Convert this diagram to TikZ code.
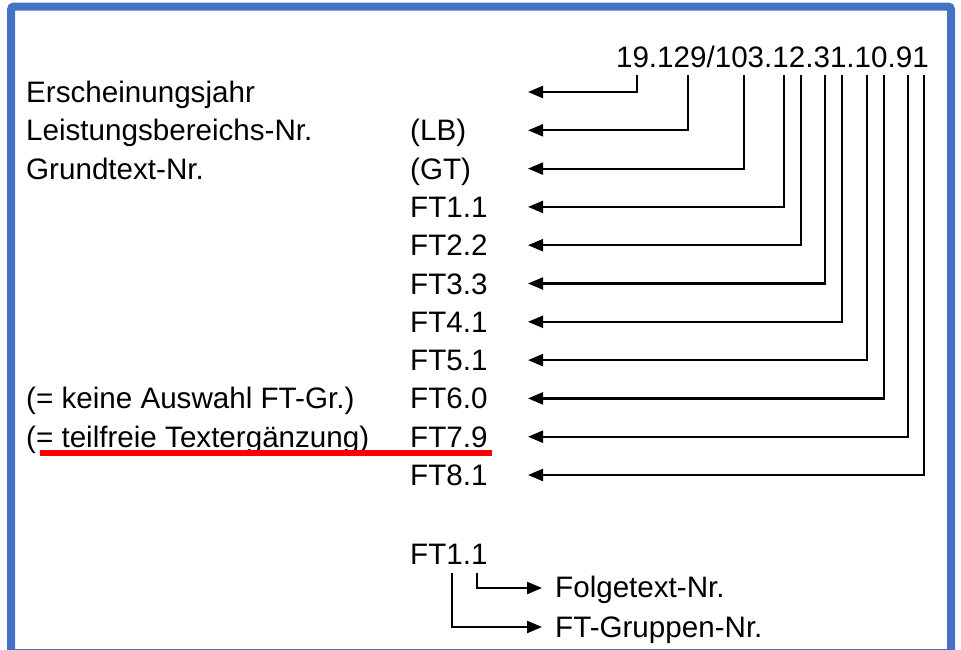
\documentclass[tikz,border=0pt]{standalone}
\usepackage{fontspec}
\setmainfont{Liberation Sans}
\usetikzlibrary{arrows.meta}
\definecolor{frameblue}{HTML}{4472C4}
\definecolor{markred}{HTML}{FF0000}
\begin{document}
\begin{tikzpicture}[x=1pt,y=-1pt,
  lbl/.style={inner sep=0pt, anchor=base west, font=\fontsize{29.6}{35}\selectfont},
  conn/.style={line width=2.2pt, -{Triangle[length=15pt,width=12pt]}}]
\useasboundingbox (0,0) rectangle (961,649);
\clip (0,0) rectangle (961,649);
\draw[frameblue, line width=8pt, rounded corners=3pt] (11,6.5) rectangle (951,653);

% code number
\node[lbl, anchor=base east] (num) at (929,67) {19.129/103.12.31.10.91};

% left labels
\node[lbl] (l1) at (26,102.5) {Erscheinungsjahr};
\node[lbl] (l2) at (26,140.8) {Leistungsbereichs-Nr.};
\node[lbl] (l3) at (26,179.1) {Grundtext-Nr.};
\node[lbl] (l9) at (26,408.9) {(= keine Auswahl FT-Gr.)};
\node[lbl] (l10) at (26,447.2) {(= teilfreie Textergänzung)};

% middle labels
\node[lbl] (m2) at (410,140.8) {(LB)};
\node[lbl] (m3) at (410,179.1) {(GT)};
\node[lbl] (m4) at (410,217.4) {FT1.1};
\node[lbl] (m5) at (410,255.7) {FT2.2};
\node[lbl] (m6) at (410,294.0) {FT3.3};
\node[lbl] (m7) at (410,332.3) {FT4.1};
\node[lbl] (m8) at (410,370.6) {FT5.1};
\node[lbl] (m9) at (410,408.9) {FT6.0};
\node[lbl] (m10) at (410,447.2) {FT7.9};
\node[lbl] (m11) at (410,485.5) {FT8.1};

% red underline
\draw[markred, line width=6pt] (40,453) -- (492,453);

% connector starts below the code number
\foreach \k/\x in {1/637,2/688,3/744,4/784,5/801,6/825,7/842,8/867,9/884,10/908,11/924}
  \coordinate (v\k) at (\x,75);
% arrow tips
\foreach \k/\y in {1/92,2/130.3,3/168.6,4/206.9,5/245.2,6/283.5,7/321.8,8/360.1,9/398.4,10/436.7,11/475}
  \coordinate (t\k) at (528,\y);
\foreach \k in {1,...,11}
  \draw[conn] (v\k) |- (t\k);

% explanation at bottom
\node[lbl] (ex) at (410,564) {FT1.1};
\node[lbl] (fn) at (555,597) {Folgetext-Nr.};
\node[lbl] (gn) at (555,637) {FT-Gruppen-Nr.};
\coordinate (b1) at (452,573);
\coordinate (b2) at (477,573);
\coordinate (e1) at (542,627);
\coordinate (e2) at (542,588);
\draw[conn] (b2) |- (e2);
\draw[conn] (b1) |- (e1);
\end{tikzpicture}
\end{document}
